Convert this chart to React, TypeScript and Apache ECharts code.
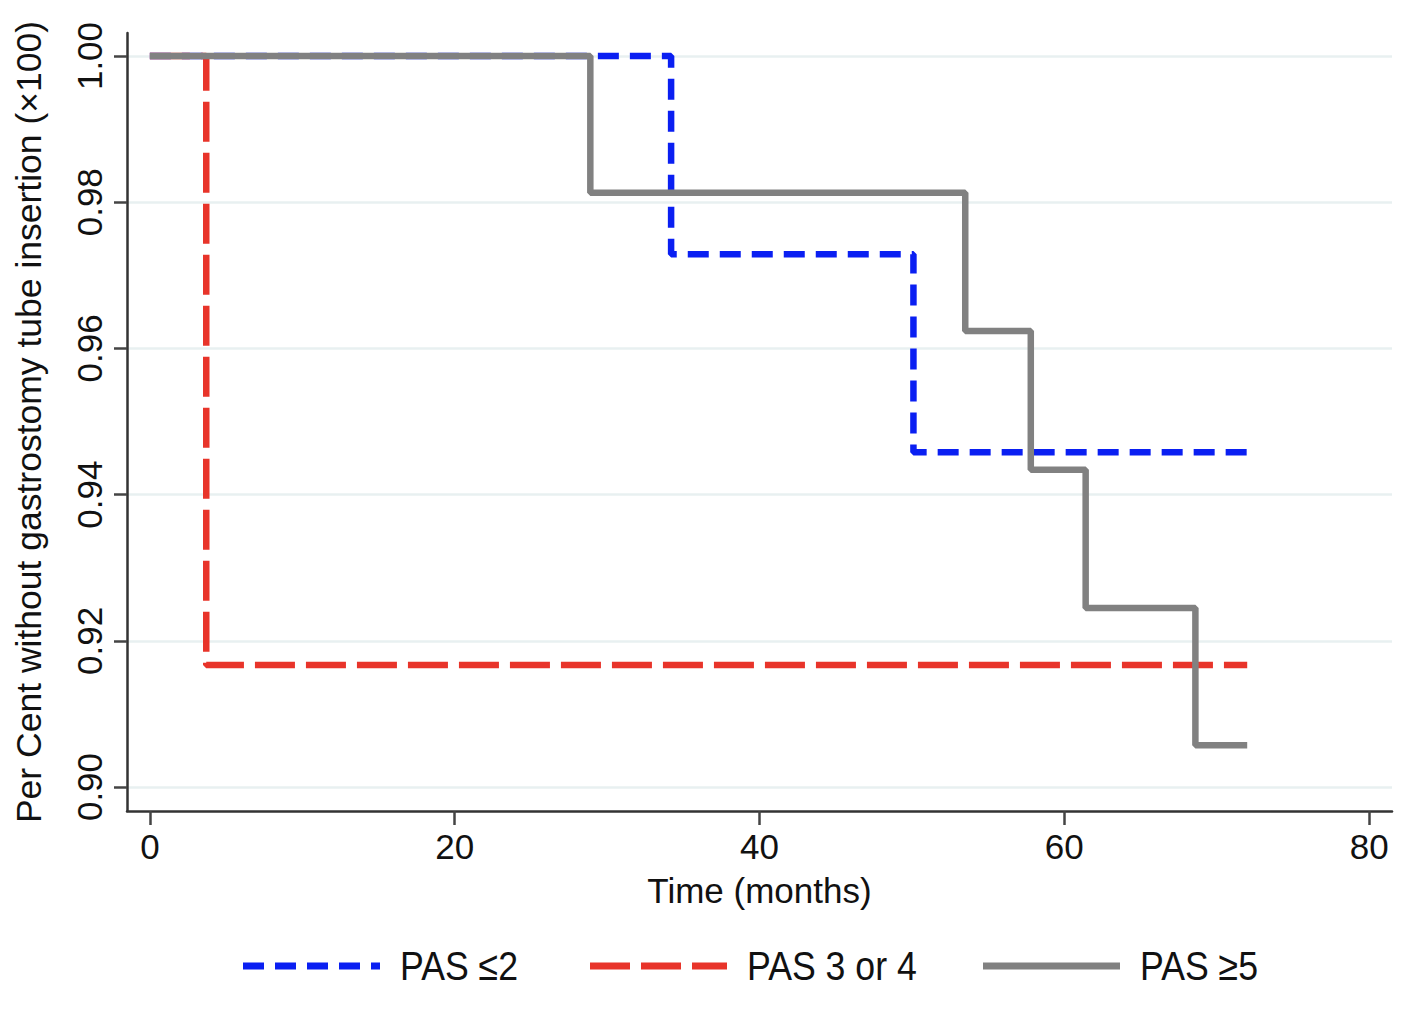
import React, { useEffect, useRef } from "react";
import * as echarts from "echarts";

const seriesNames = ["PAS \u22642", "PAS 3 or 4", "PAS \u22655"];
const seriesColors = ["#0a1ff2", "#e8342a", "#818181"];
const pasLow: [number, number][] = [
  [0, 1.0],
  [34.2, 0.9729],
  [50.1, 0.9458],
  [72, 0.9458],
];
const pasMid: [number, number][] = [
  [0, 1.0],
  [3.7, 0.9167],
  [72, 0.9167],
];
const pasHigh: [number, number][] = [
  [0, 1.0],
  [28.9, 0.9813],
  [53.5, 0.9624],
  [57.8, 0.9434],
  [61.4, 0.9245],
  [68.6, 0.9057],
  [72, 0.9057],
];
const xTicks = [0, 20, 40, 60, 80];
const yTicks = [0.9, 0.92, 0.94, 0.96, 0.98, 1.0];

const FONT = "Liberation Sans";
const dashes: any[] = [[21, 11], [40, 11], null];

export default function App() {
  const ref = useRef<HTMLDivElement>(null);
  useEffect(() => {
    document.body.style.margin = "0";
    const chart = echarts.init(ref.current!, null, { renderer: "svg" });
    const mk = (i: number, data: [number, number][]) => ({
      name: seriesNames[i],
      type: "line",
      step: "end",
      data,
      symbol: "none",
      showSymbol: false,
      lineStyle: { color: seriesColors[i], width: 6.5, type: dashes[i] || "solid", cap: "butt" },
      itemStyle: { color: seriesColors[i] },
      z: 3,
    });
    // legend drawn as graphic items
    const legendX = [243, 590, 983];
    const legendW = 137;
    const legendY = 966;
    const legendGraphics: any[] = [];
    seriesNames.forEach((n, i) => {
      legendGraphics.push({
        type: "line",
        shape: { x1: legendX[i], y1: legendY, x2: legendX[i] + legendW, y2: legendY },
        style: { stroke: seriesColors[i], lineWidth: 7, lineDash: dashes[i] || undefined },
      });
      legendGraphics.push({
        type: "text",
        x: legendX[i] + legendW + 20,
        y: legendY,
        scaleX: 0.87,
        style: {
          text: n,
          fontSize: 41,
          fontFamily: FONT,
          fill: "#111",
          verticalAlign: "middle",
          align: "left",
        },
      });
    });
    chart.setOption({
      animation: false,
      backgroundColor: "#ffffff",
      textStyle: { fontFamily: FONT },
      grid: { left: 127, right: 26, top: 33, bottom: 199, containLabel: false },
      xAxis: {
        type: "value",
        min: -1.5,
        max: 81.5,
        name: "Time (months)",
        nameLocation: "middle",
        nameGap: 62,
        nameTextStyle: { fontSize: 35, color: "#111", fontFamily: FONT },
        axisLine: { onZero: false, lineStyle: { color: "#333", width: 2.5 } },
        axisTick: { customValues: xTicks, length: 14, lineStyle: { color: "#444", width: 2.5 } },
        axisLabel: { customValues: xTicks, fontSize: 35, color: "#111", margin: 18, fontFamily: FONT },
        splitLine: { show: false },
      },
      yAxis: {
        type: "value",
        min: 0.89672,
        max: 1.00315,
        name: "Per Cent without gastrostomy tube insertion (\u00d7100)",
        nameLocation: "middle",
        nameGap: 80,
        nameTextStyle: { fontSize: 35.5, color: "#111", fontFamily: FONT },
        axisLine: { onZero: false, lineStyle: { color: "#333", width: 2.5 } },
        axisTick: { customValues: yTicks, length: 13, lineStyle: { color: "#444", width: 2.5 } },
        axisLabel: {
          customValues: yTicks,
          rotate: 90,
          fontSize: 35,
          color: "#111",
          margin: 20,
          fontFamily: FONT,
          formatter: (v: number) => v.toFixed(2),
        },
        splitLine: { show: true, lineStyle: { color: "#e8f0f1", width: 2.5 } },
      },
      graphic: legendGraphics,
      series: [mk(0, pasLow), mk(1, pasMid), mk(2, pasHigh)],
    });
    return () => chart.dispose();
  }, []);
  return <div ref={ref} style={{ width: 1418, height: 1010 }} />;
}
